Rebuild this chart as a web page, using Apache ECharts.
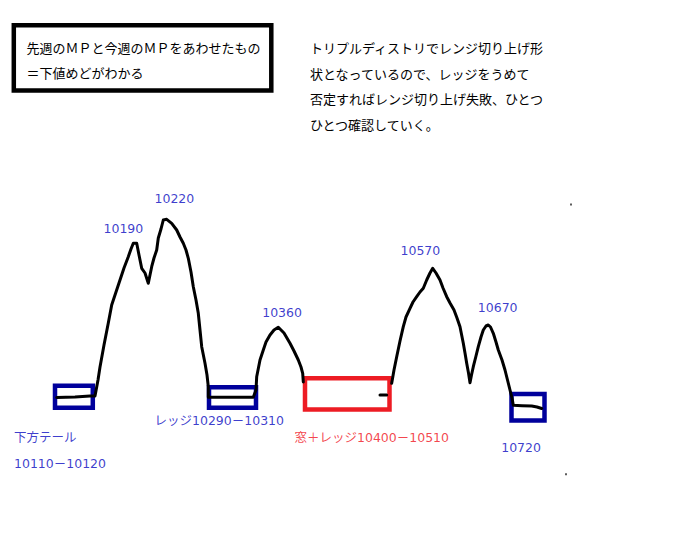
<!DOCTYPE html>
<html>
<head>
<meta charset="utf-8">
<script src="https://cdn.jsdelivr.net/npm/echarts@6/dist/echarts.min.js"></script>
<style>
html,body{margin:0;padding:0;background:#fff;}
#chart{width:691px;height:560px;}
</style>
</head>
<body>
<div id="chart"></div>
<script>
// ---- data (sketch units) ----
var curveMain = [
  [56.7,397.5],[75,397],[90,396],[95,396],[98,380],[100,367],[104,345],[108.3,323],[111.7,305],[116,292],
  [120,280],[124,268],[128.3,256.7],[131,249],[133.3,243.3],[136.7,243.3],[139,255],[141.7,268.3],[145,273],
  [148.3,283.3],[150,275],[151.7,266.7],[154,258],[156.7,250],[158.3,238],[161,229],[163.3,220],[166.7,219.3],
  [171.7,223.3],[176.7,230],[180,237],[183.3,243.3],[186,250],[188.3,258.3],[191,272],[193.3,286.7],[196,300],
  [198.3,313.3],[200,330],[201.7,346.7],[205,363.3],[207,375],[208.3,386.7],[208.3,397.3],[230,397.3],
  [253.3,397.3],[256,390],[256.7,376.7],[260,360],[263.3,350],[266,342],[270,335],[274,330],[278.3,327.3],
  [284,333],[290,343.3],[294,351],[298.3,360],[301,367],[302.7,373.3],[303.3,382]
];
var curveDash = [[380,395],[386.7,395]];
var curveRight = [
  [391.7,383.3],[394,370],[396.7,356.7],[400,341],[403.3,326.7],[406,317],[410,308.3],[413,302],[416.7,296.7],
  [420,292],[423.3,288.3],[426.7,280],[430,273],[432.7,268.3],[436,273],[440,280],[443,288],[446.7,296.7],
  [450,303],[454,310],[457,318],[460,326.7],[463.3,343.3],[465,353],[466.7,363.3],[468.5,373],[470,382.7],
  [471.5,375],[473.3,366.7],[476,356],[478.3,346.7],[481,337],[483.3,330],[486,326],[488.3,325],[490.5,327],
  [493.3,333.3],[496,342],[498.3,350],[502,360],[505,370],[507.5,380],[510,390],[512,398],[513.3,405.3],
  [522,405.7],[531.7,406],[537,407],[541.7,408.5]
];
// boxes: [x1, y1, x2, y2]
var boxTail = [55,385.7,92.8,407.7];
var boxLedge1 = [209,387.3,256,407.7];
var boxWindow = [305,378.2,389.5,409.5];
var boxLedge2 = [511.5,394,544.5,420.5];
// peak labels: [x, y, text]
var peakLabels = [
  [103,228,'10190'],[154,198.3,'10220'],[261.7,312.5,'10360'],[400,250.5,'10570'],[477.3,307.7,'10670'],[500.7,447.3,'10720']
];
var blueNotes = [
  [13.5,437.5,'下方テール'],[13.5,463,'10110－10120'],[154,420.5,'レッジ10290－10310']
];
var redNotes = [[294,437.5,'窓＋レッジ10400－10510']];
var dots = [[571,204.5],[566,474.3]];
var noteBoxText = ['先週のＭＰと今週のＭＰをあわせたもの','＝下値めどがわかる'];
var commentText = ['トリプルディストリでレンジ切り上げ形','状となっているので、レッジをうめて','否定すればレンジ切り上げ失敗、ひとつ','ひとつ確認していく。'];

var BLUE_BOX = '#00009c', RED_BOX = '#ed1c24', BLUE_TXT = '#0a0ac0', RED_TXT = '#f0141e';
var numFont = "'DejaVu Sans', 'Noto Sans CJK JP', sans-serif";
var jpFont = "'Noto Sans CJK JP', sans-serif";

function area(b, color) {
  return [{coord:[b[0],b[1]], itemStyle:{color:'rgba(0,0,0,0)', borderColor:color, borderWidth:4.5}}, {coord:[b[2],b[3]]}];
}
function labelSeries(arr, color) {
  return {
    type:'scatter', symbolSize:1, itemStyle:{color:'rgba(0,0,0,0)'}, silent:true, z:5,
    data: arr.map(function(d){return {value:[d[0],d[1]], name:d[2]};}),
    label:{show:true, position:'right', distance:0, formatter:function(p){return p.name;},
      color:color, fontSize:12.5, fontFamily:numFont, align:'left', verticalAlign:'middle'}
  };
}
function lineSeries(d) {
  return {type:'line', data:d, symbol:'none', smooth:false, z:3,
    lineStyle:{color:'#000', width:3, join:'round', cap:'round'}};
}

var chart = echarts.init(document.getElementById('chart'), null, {renderer:'svg'});
var textEls = [];
noteBoxText.forEach(function(t,i){
  textEls.push({type:'text', left:26.5, top:41 + i*24.5, style:{text:t, fill:'#000', font:'13px ' + jpFont}});
});
commentText.forEach(function(t,i){
  textEls.push({type:'text', left:310, top:41 + i*25.7, style:{text:t, fill:'#000', font:'13px ' + jpFont}});
});
chart.setOption({
  animation:false,
  backgroundColor:'#fff',
  grid:{left:0, right:0, top:0, bottom:0},
  xAxis:{type:'value', min:0, max:691, show:false},
  yAxis:{type:'value', min:0, max:560, inverse:true, show:false},
  graphic:[{type:'rect', shape:{x:13.8, y:25.3, width:257.5, height:65.2}, style:{fill:'none', stroke:'#000', lineWidth:4.5}}].concat(textEls),
  series:[
    lineSeries(curveMain),
    lineSeries(curveDash),
    lineSeries(curveRight),
    {type:'line', data:[], z:4, markArea:{silent:true, data:[area(boxTail,BLUE_BOX), area(boxLedge1,BLUE_BOX), area(boxWindow,RED_BOX), area(boxLedge2,BLUE_BOX)]}},
    labelSeries(peakLabels, BLUE_TXT),
    labelSeries(blueNotes, BLUE_TXT),
    labelSeries(redNotes, RED_TXT),
    {type:'scatter', data:dots, symbol:'rect', symbolSize:2, itemStyle:{color:'#333'}, silent:true}
  ]
});
</script>
</body>
</html>
